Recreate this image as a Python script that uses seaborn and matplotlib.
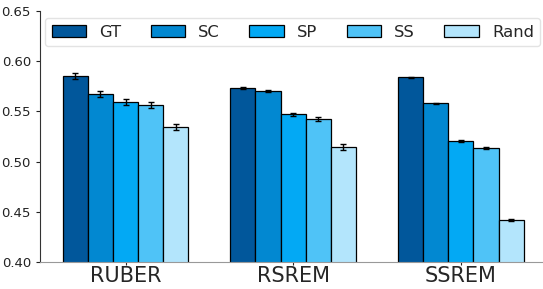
import numpy as np
import pandas as pd
import seaborn as sns
import matplotlib.pyplot as plt

metrics = ["RUBER", "RSREM", "SSREM"]
methods = ["GT", "SC", "SP", "SS", "Rand"]
gt = [0.585, 0.573, 0.584]
sc = [0.567, 0.570, 0.558]
sp = [0.559, 0.547, 0.521]
ss = [0.556, 0.542, 0.514]
rand = [0.534, 0.515, 0.442]
gt_err = [0.003, 0.001, 0.0005]
sc_err = [0.003, 0.001, 0.0005]
sp_err = [0.003, 0.0015, 0.001]
ss_err = [0.003, 0.002, 0.001]
rand_err = [0.003, 0.003, 0.001]
colors = ["#01579B", "#0288D1", "#03A9F4", "#4FC3F7", "#B3E5FC"]

vals = [gt, sc, sp, ss, rand]
errs = [gt_err, sc_err, sp_err, ss_err, rand_err]
df = pd.DataFrame({
    "metric": [m for v in vals for m in metrics],
    "method": [t for t, v in zip(methods, vals) for _ in v],
    "val": [x for v in vals for x in v],
    "err": [x for e in errs for x in e],
})

sns.set_style("ticks")
fig = plt.figure(figsize=(5.43, 2.89), dpi=100)
ax = fig.add_axes([40 / 543, 27 / 289, 503 / 543, 251 / 289])

sns.barplot(data=df, x="metric", y="val", hue="method", order=metrics,
            hue_order=methods, palette=colors, width=0.75, errorbar=None,
            saturation=1, edgecolor="black", linewidth=0.9, ax=ax)

# error bars on top of each bar
for bars, t in zip(ax.containers, methods):
    sub = df[df["method"] == t].set_index("metric").loc[metrics]
    xs = [b.get_x() + b.get_width() / 2 for b in bars]
    ax.errorbar(xs, sub["val"], yerr=sub["err"], fmt="none", ecolor="black",
                elinewidth=1, capsize=2, capthick=1)

ax.set_ylim(0.40, 0.65)
ax.set_xlim(-0.51, 2.49)
ax.set_yticks([0.40, 0.45, 0.50, 0.55, 0.60, 0.65])
ax.set_yticklabels(["0.40", "0.45", "0.50", "0.55", "0.60", "0.65"])
ax.tick_params(axis="y", labelsize=9.5, length=3, colors="#222222")
ax.tick_params(axis="x", labelsize=15, length=2, pad=1)
ax.set_xlabel("")
ax.set_ylabel("")
sns.despine(ax=ax)
ax.spines["left"].set_color("#333333")
ax.spines["bottom"].set_color("#999999")

ax.legend(loc="upper left", bbox_to_anchor=(0.01, 0.857, 0.985, 0.115),
          mode="expand", ncol=5, fontsize=11.8, handlelength=2.1,
          handleheight=0.8, borderaxespad=0, frameon=True,
          edgecolor="#dddddd", fancybox=True)

fig.savefig("out.png", dpi=100)
